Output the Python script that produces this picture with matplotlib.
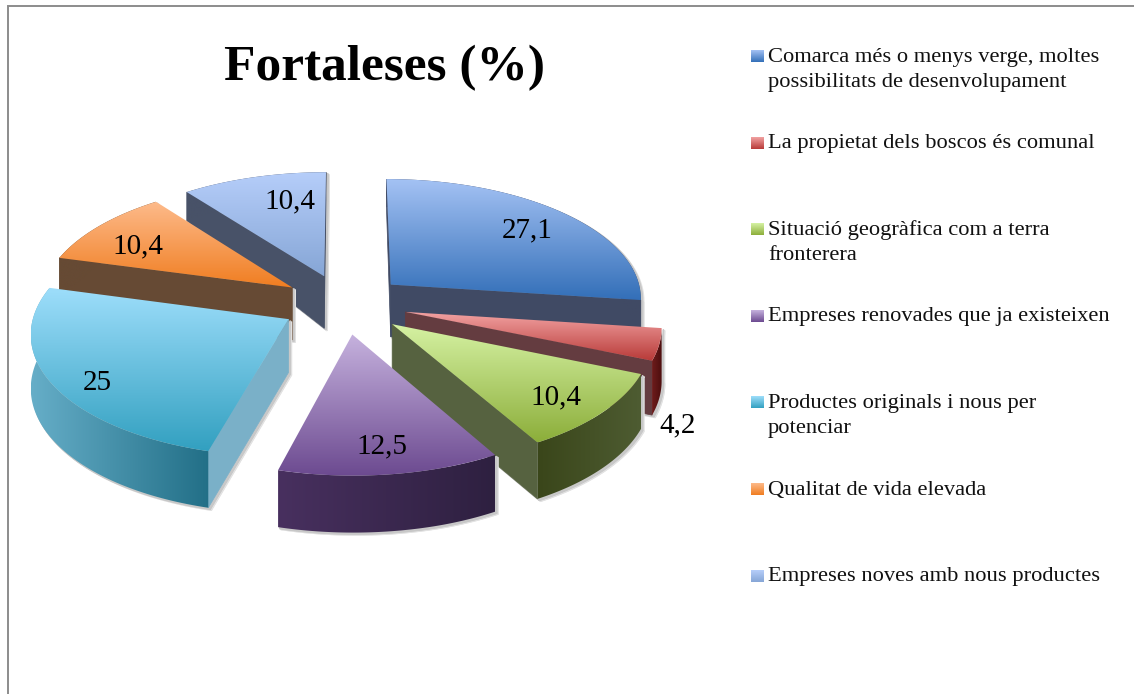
import numpy as np
import matplotlib
matplotlib.use("Agg")
import matplotlib.pyplot as plt
from matplotlib.patches import Polygon
from matplotlib.colors import LinearSegmentedColormap

title = "Fortaleses (%)"
categories = [
    "Comarca més o menys verge, moltes\npossibilitats de desenvolupament",
    "La propietat dels boscos és comunal",
    "Situació geogràfica com a terra\nfronterera",
    "Empreses renovades que ja existeixen",
    "Productes originals i nous per\npotenciar",
    "Qualitat de vida elevada",
    "Empreses noves amb nous productes",
]
values = [27.1, 4.2, 10.4, 12.5, 25, 10.4, 10.4]
value_labels = ["27,1", "4,2", "10,4", "12,5", "25", "10,4", "10,4"]

# styles
top_light = ["#a4c2f4", "#f2a2a2", "#d6f2a4", "#c6b2de", "#9edefb", "#fdba8a", "#b6cefa"]
top_dark = ["#336fb8", "#b83a38", "#8cae3a", "#6c4a90", "#32a0c0", "#f07d20", "#86a6d6"]
cut_col = ["#404a64", "#643c40", "#566240", "#4a3a60", "#7ab0c8", "#664a34", "#485268"]
arc_left = ["#404a64", "#6e1c1c", "#3a461a", "#48305f", "#66aec8", "#664a34", "#485268"]
arc_right = ["#404a64", "#4c0e0e", "#4e5c32", "#2e2040", "#226f87", "#664a34", "#485268"]
label_r = [0.784, 1.27, 0.80, 0.80, 0.845, 0.762, 0.74]
label_da = [0, 26, 1, 0, -4, -3, 6.6]
draw_order = [6, 5, 0, 4, 1, 2, 3]

serif = "Liberation Serif"
W, H = 1134, 694
CX, CY, A, B, K, EXPLODE = 344, 304, 252.5, 120, 0.102, 0.25


def project(x, y, down=0.0):
    s = 1 / (1 - K * y)
    d = np.interp(y, [-1.05, -0.25, 1.2], [28, 52, 57])
    return CX + A * s * x, CY + B * s * y + d * down


fig = plt.figure(figsize=(W / 100, H / 100), dpi=100, facecolor="white")
ax = fig.add_axes([0, 0, 1, 1])
ax.set_axis_off()


def gradient(poly, c0, c1, vertical, z):
    xs, ys = poly[:, 0], poly[:, 1]
    cmap = LinearSegmentedColormap.from_list("g", [c0, c1])
    g = np.linspace(0, 1, 256)
    g = g[:, None] if vertical else g[None, :]
    im = ax.imshow(g, cmap=cmap, extent=(xs.min(), xs.max(), ys.max(), ys.min()),
                   aspect="auto", origin="upper", zorder=z, interpolation="bilinear")
    patch = Polygon(poly, closed=True, transform=ax.transData, fc="none", ec="none")
    ax.add_patch(patch)
    im.set_clip_path(patch)


total = sum(values)
edges = np.concatenate([[0], np.cumsum(values)]) / total * 2 * np.pi
z = 2
for i in draw_order:
    t0, t1 = edges[i], edges[i + 1]
    mid = (t0 + t1) / 2
    ox, oy = EXPLODE * np.sin(mid), -EXPLODE * np.cos(mid)
    t = np.linspace(t0, t1, 80)
    rx, ry = ox + np.sin(t), oy - np.cos(t)
    top_arc = np.column_stack(project(rx, ry, 0))
    bot_arc = np.column_stack(project(rx, ry, 1))
    apex_t = np.array(project(ox, oy, 0))
    apex_b = np.array(project(ox, oy, 1))
    top_poly = np.vstack([apex_t, top_arc])
    bot_poly = np.vstack([apex_b, bot_arc])
    arc_poly = np.vstack([top_arc, bot_arc[::-1]])
    q0 = np.array([apex_t, top_arc[0], bot_arc[0], apex_b])
    q1 = np.array([apex_t, top_arc[-1], bot_arc[-1], apex_b])
    faces = []
    if top_arc[0, 0] < apex_t[0]:
        faces.append(q0)
    if top_arc[-1, 0] > apex_t[0]:
        faces.append(q1)
    # soft drop shadow
    for off, shade in ((3, "#e2e2e2"), (1.8, "#c8c8c8")):
        for poly in [bot_poly, arc_poly] + faces:
            ax.add_patch(Polygon(poly + [off, off * 0.8], closed=True, fc=shade, ec=shade,
                                 lw=1, zorder=z))
        z += 1
    for f in faces:
        ax.add_patch(Polygon(f, closed=True, fc=cut_col[i], ec=cut_col[i], lw=0.5, zorder=z))
    z += 1
    gradient(arc_poly, arc_left[i], arc_right[i], False, z)
    z += 1
    gradient(top_poly, top_light[i], top_dark[i], True, z)
    z += 1

for i in range(len(values)):
    mid = (edges[i] + edges[i + 1]) / 2
    a = mid + np.radians(label_da[i])
    lx = EXPLODE * np.sin(mid) + label_r[i] * np.sin(a)
    ly = -EXPLODE * np.cos(mid) - label_r[i] * np.cos(a)
    px, py = project(lx, ly, 0)
    ax.text(px, py + 2.5, value_labels[i], family=serif, fontsize=21, ha="center", va="center",
            color="black", zorder=100)

ax.text(385, 68, title, family=serif, fontsize=37, fontweight="bold", ha="center", va="center",
        color="black", zorder=100)

row0, row_step, line_step = 56, 86.6, 25.5
for i, cat in enumerate(categories):
    y = row0 + i * row_step
    square = np.array([[751, y - 6], [764, y - 6], [764, y + 6], [751, y + 6]])
    gradient(square, top_light[i], top_dark[i], True, 100)
    for j, line in enumerate(cat.split("\n")):
        ax.text(768, y + 1 + j * line_step, line, family=serif, fontsize=16.2, ha="left", va="center",
                color="#111111", zorder=100)

# chart frame (only top and left edges fall inside the picture)
ax.plot([8, 8, W], [H, 6, 6], color="#8c8c8c", lw=1.4, zorder=101, solid_joinstyle="miter")

ax.set_xlim(0, W)
ax.set_ylim(H, 0)
fig.savefig("out.png", dpi=100, facecolor="white")
